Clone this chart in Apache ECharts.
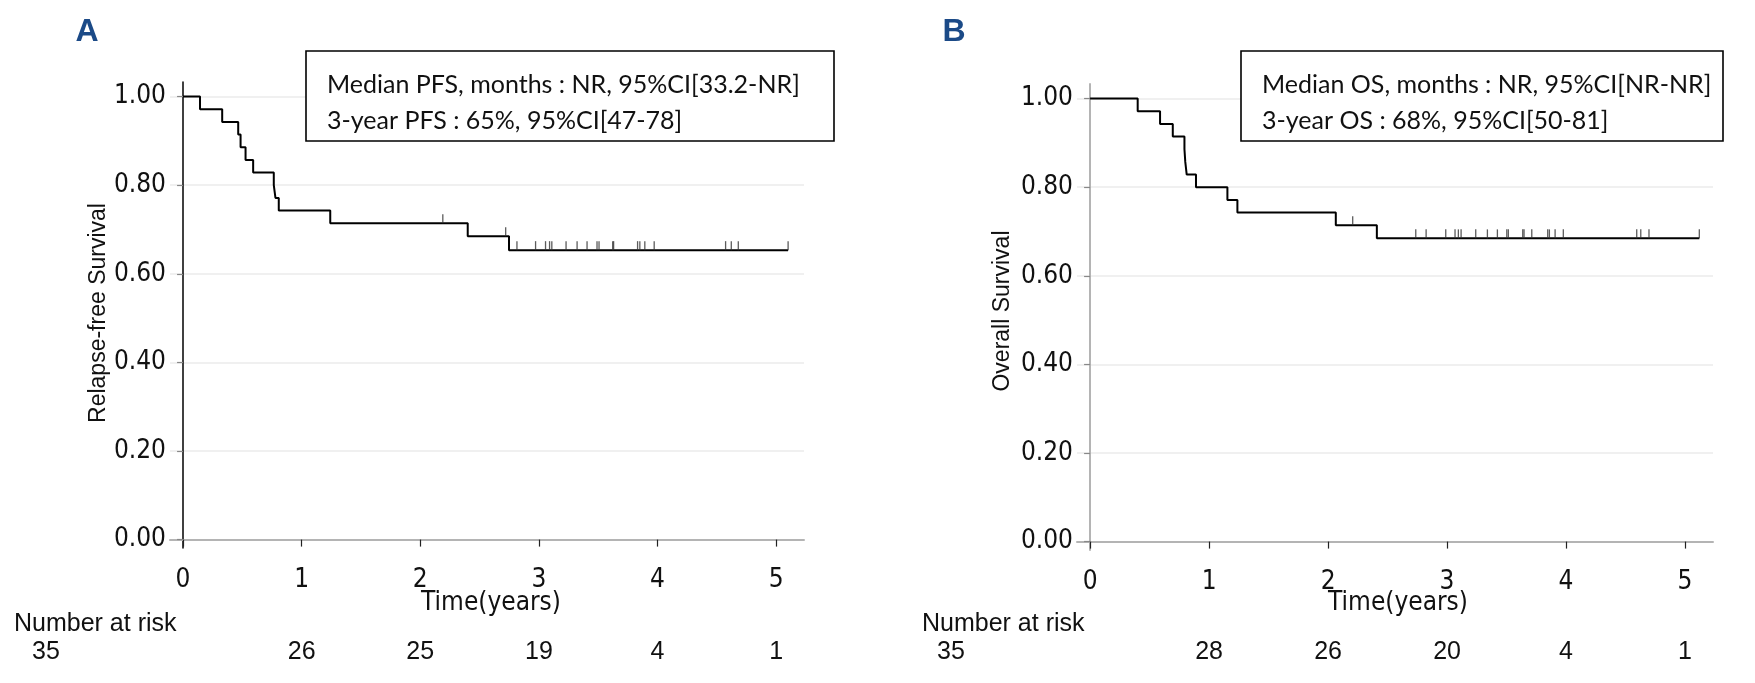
<!DOCTYPE html>
<html><head><meta charset="utf-8">
<script src="https://cdn.jsdelivr.net/npm/echarts@6/dist/echarts.min.js"></script>
<style>html,body{margin:0;padding:0;background:#fff}#c{width:1755px;height:683px}</style>
</head><body><div id="c"></div>
<script>
// ---- data ----
const xTicks = [0, 1, 2, 3, 4, 5];
const yTicks = [0, 0.2, 0.4, 0.6, 0.8, 1.0];

const pfsTimes = [0, 0.143, 0.33, 0.465, 0.485, 0.527, 0.591, 0.765, 0.779, 0.807, 1.241, 2.40, 2.748, 5.101];
const pfsSurv  = [1, 0.9714, 0.9429, 0.9143, 0.8857, 0.8571, 0.8286, 0.80, 0.7714, 0.7429, 0.7143, 0.6845, 0.6534, 0.6534];
const pfsCensorTimes = [2.19, 2.72, 2.815, 2.972, 3.056, 3.09, 3.109, 3.229, 3.322, 3.406, 3.49, 3.507, 3.622, 3.63, 3.832, 3.851, 3.893, 3.972, 4.574, 4.622, 4.681, 5.101];
const pfsCensorSurv  = [0.7143, 0.6845, 0.6534, 0.6534, 0.6534, 0.6534, 0.6534, 0.6534, 0.6534, 0.6534, 0.6534, 0.6534, 0.6534, 0.6534, 0.6534, 0.6534, 0.6534, 0.6534, 0.6534, 0.6534, 0.6534, 0.6534];

const osTimes = [0, 0.40, 0.588, 0.695, 0.793, 0.800, 0.812, 0.89, 1.154, 1.238, 2.065, 2.41, 5.12];
const osSurv  = [1, 0.9714, 0.9429, 0.9143, 0.8857, 0.8571, 0.8286, 0.80, 0.7714, 0.7429, 0.7143, 0.6845, 0.6845];
const osCensorTimes = [2.207, 2.737, 2.824, 2.989, 3.067, 3.095, 3.118, 3.241, 3.339, 3.423, 3.502, 3.515, 3.636, 3.647, 3.712, 3.846, 3.860, 3.908, 3.977, 4.594, 4.628, 4.697, 5.12];
const osCensorSurv  = [0.7143, 0.6845, 0.6845, 0.6845, 0.6845, 0.6845, 0.6845, 0.6845, 0.6845, 0.6845, 0.6845, 0.6845, 0.6845, 0.6845, 0.6845, 0.6845, 0.6845, 0.6845, 0.6845, 0.6845, 0.6845, 0.6845, 0.6845];

const riskTimes = [0, 1, 2, 3, 4, 5];
const pfsRisk = [35, 26, 25, 19, 4, 1];
const osRisk  = [35, 28, 26, 20, 4, 1];

const pfsBox = ['Median PFS, months : NR, 95%CI[33.2-NR]', '3-year PFS : 65%, 95%CI[47-78]'];
const osBox  = ['Median OS, months : NR, 95%CI[NR-NR]', '3-year OS : 68%, 95%CI[50-81]'];

// ---- chart ----
const chart = echarts.init(document.getElementById('c'), null, {renderer: 'canvas'});
const TF = 'Liberation Sans, Arial, sans-serif';
const NF = 'Liberation Sans Narrow, Arial Narrow, DejaVu Sans Condensed, sans-serif';
const BF = 'Lato, Open Sans, sans-serif';

function xAxisCfg(gi) {
  return {
    gridIndex: gi, type: 'value', min: -0.11, max: 5.235,
    axisLine: {show: true, lineStyle: {color: '#b4b4b4', width: 2}},
    axisTick: {show: true, customValues: xTicks, length: 7, lineStyle: {color: '#222', width: 1.2}},
    axisLabel: {customValues: xTicks, fontFamily: NF, fontSize: 26, color: '#111', margin: 19},
    splitLine: {show: false}
  };
}
function yAxisCfg(gi, lineColor, lineWidth) {
  return {
    gridIndex: gi, type: 'value', min: -0.019, max: 1.033,
    axisLine: {show: true, lineStyle: {color: lineColor, width: lineWidth}},
    axisTick: {show: true, customValues: yTicks, length: 6, lineStyle: {color: '#888', width: 1.2}},
    axisLabel: {customValues: yTicks, formatter: v => v.toFixed(2), fontFamily: NF, fontSize: 26, color: '#111', margin: 4},
    splitLine: {show: true, lineStyle: {color: '#ebebeb', width: 1.5}}
  };
}
function kmSeries(gi, times, surv) {
  return {
    type: 'line', xAxisIndex: gi, yAxisIndex: gi, step: 'end', symbol: 'none',
    lineStyle: {color: '#000', width: 2}, z: 3, animation: false,
    data: times.map((t, i) => [t, surv[i]])
  };
}
function censorSeries(gi, times, surv) {
  return {
    type: 'scatter', xAxisIndex: gi, yAxisIndex: gi, symbol: 'rect',
    symbolSize: [1.3, 9], symbolOffset: [0, -4.5],
    itemStyle: {color: '#333'}, z: 4, animation: false,
    data: times.map((t, i) => [t, surv[i]])
  };
}

chart.setOption({
  animation: false,
  backgroundColor: '#fff',
  grid: [
    {left: 170, top: 82, width: 634, height: 466},
    {left: 1077, top: 84, width: 636, height: 466}
  ],
  xAxis: [xAxisCfg(0), xAxisCfg(1)],
  yAxis: [yAxisCfg(0, '#000', 1.5), yAxisCfg(1, '#b4b4b4', 2)],
  series: [
    kmSeries(0, pfsTimes, pfsSurv), censorSeries(0, pfsCensorTimes, pfsCensorSurv),
    kmSeries(1, osTimes, osSurv), censorSeries(1, osCensorTimes, osCensorSurv)
  ]
});

function boxGraphics(x, y, w, h, lines) {
  return [
    {type: 'rect', shape: {x: x, y: y, width: w, height: h}, style: {fill: '#fff', stroke: '#000', lineWidth: 1.6}, z: 10},
    {type: 'text', x: x + 21, y: y + 34, style: {text: lines[0], font: '25px ' + BF, fill: '#111', textVerticalAlign: 'middle'}, z: 11},
    {type: 'text', x: x + 21, y: y + 70, style: {text: lines[1], font: '25px ' + BF, fill: '#111', textVerticalAlign: 'middle'}, z: 11}
  ];
}
function riskGraphics(gi, risk, labelLeft, firstX) {
  const out = [{type: 'text', x: labelLeft, y: 624, style: {text: 'Number at risk', font: '25px ' + TF, fill: '#111', textVerticalAlign: 'middle'}}];
  risk.forEach((n, i) => {
    const px = i === 0 ? firstX : chart.convertToPixel({xAxisIndex: gi}, riskTimes[i]);
    out.push({type: 'text', x: px, y: 652, style: {text: String(n), font: '25px ' + TF, fill: '#111', textAlign: 'center', textVerticalAlign: 'middle'}});
  });
  return out;
}
const g = [].concat(
  [{type: 'text', x: 87, y: 32, style: {text: 'A', font: 'bold 32px ' + TF, fill: '#1b4a87', textAlign: 'center', textVerticalAlign: 'middle'}},
   {type: 'text', x: 954, y: 32, style: {text: 'B', font: 'bold 32px ' + TF, fill: '#1b4a87', textAlign: 'center', textVerticalAlign: 'middle'}},
   {type: 'text', x: 99, y: 313, rotation: Math.PI / 2, style: {text: 'Relapse-free Survival', font: '23px ' + TF, fill: '#111', textAlign: 'center', textVerticalAlign: 'middle'}},
   {type: 'text', x: 1003, y: 311, rotation: Math.PI / 2, style: {text: 'Overall Survival', font: '23px ' + TF, fill: '#111', textAlign: 'center', textVerticalAlign: 'middle'}},
   {type: 'text', x: 491, y: 603, style: {text: 'Time(years)', font: '26px ' + NF, fill: '#111', textAlign: 'center', textVerticalAlign: 'middle'}},
   {type: 'text', x: 1398, y: 603, style: {text: 'Time(years)', font: '26px ' + NF, fill: '#111', textAlign: 'center', textVerticalAlign: 'middle'}}],
  boxGraphics(306, 51, 528, 90, pfsBox),
  boxGraphics(1241, 51, 482, 90, osBox),
  riskGraphics(0, pfsRisk, 14, 46),
  riskGraphics(1, osRisk, 922, 951)
);
chart.setOption({graphic: g});
</script></body></html>
